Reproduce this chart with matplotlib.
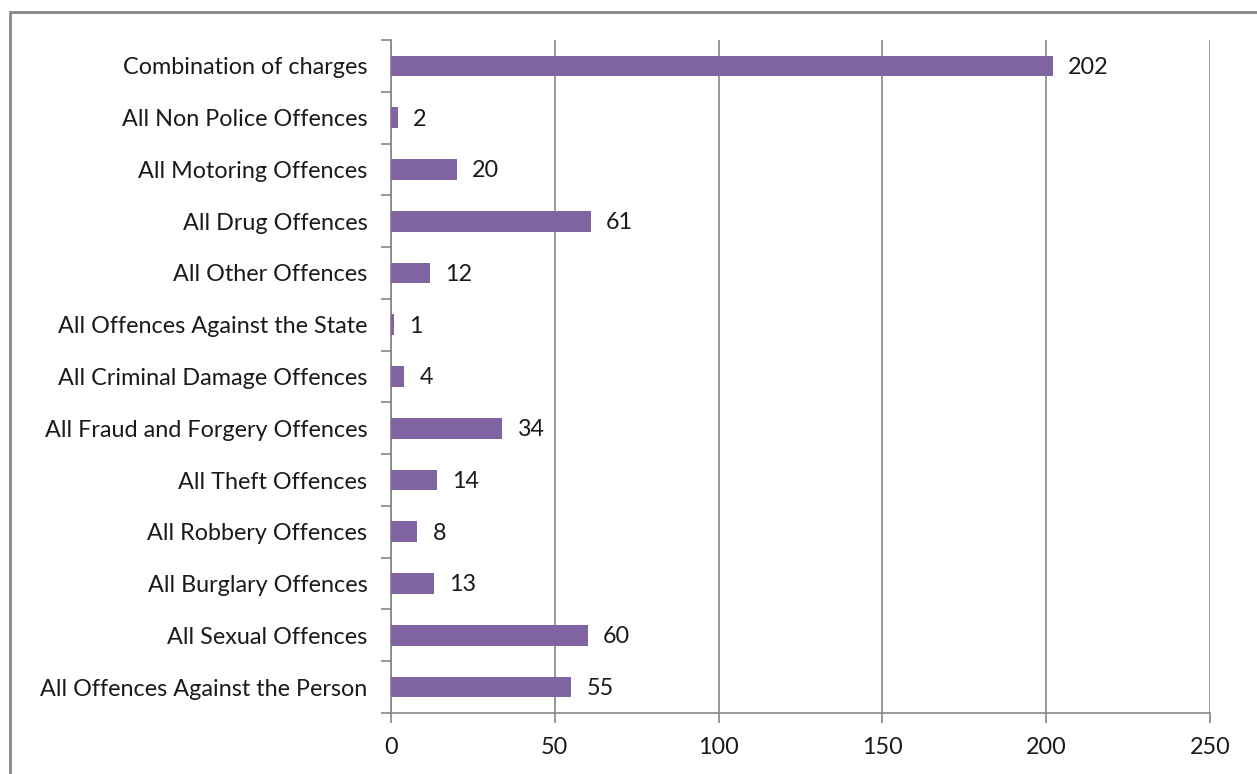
import numpy as np
import matplotlib.pyplot as plt
from matplotlib.patches import Rectangle

# Chart data (bottom to top)
categories = [
    "All Offences Against the Person",
    "All Sexual Offences",
    "All Burglary Offences",
    "All Robbery Offences",
    "All Theft Offences",
    "All Fraud and Forgery Offences",
    "All Criminal Damage Offences",
    "All Offences Against the State",
    "All Other Offences",
    "All Drug Offences",
    "All Motoring Offences",
    "All Non Police Offences",
    "Combination of charges",
]
values = [55, 60, 13, 8, 14, 34, 4, 1, 12, 61, 20, 2, 202]
x_ticks = [0, 50, 100, 150, 200, 250]

plt.rcParams['font.family'] = ['Lato', 'DejaVu Sans']
grey = '#868686'
fs = 16.8

fig = plt.figure(figsize=(12.57, 7.74), dpi=100)
ax = fig.add_axes([391 / 1257, 1 - 713 / 774, (1210 - 391) / 1257, (713 - 40) / 774])

y = np.arange(len(categories))
ax.barh(y, values, height=0.4, color='#8064A2', zorder=3)

for yi, v in zip(y, values):
    ax.annotate(str(v), (v, yi), xytext=(11, -1), textcoords='offset points',
                va='center', ha='left', fontsize=fs, color='#1a1a1a')

ax.set_xlim(0, 250)
ax.set_ylim(-0.5, len(categories) - 0.5)
ax.set_xticks(x_ticks)
ax.set_yticks(y)
ax.set_yticklabels(categories)
ax.set_yticks(np.arange(-0.5, len(categories), 1), minor=True)

ax.grid(axis='x', color=grey, linewidth=1.2, zorder=0)
for s in ['top', 'right']:
    ax.spines[s].set_visible(False)
for s in ['left', 'bottom']:
    ax.spines[s].set_color(grey)
    ax.spines[s].set_linewidth(1.2)

ax.tick_params(axis='y', which='major', length=0, pad=17, labelsize=fs, labelcolor='#1a1a1a')
ax.tick_params(axis='y', which='minor', length=7, color=grey, width=1.2)
ax.tick_params(axis='x', length=7, color=grey, width=1.2, pad=10, labelsize=fs, labelcolor='#1a1a1a')

# outer chart border
fig.patches.append(Rectangle((10 / 1257, -0.1), 1.2, 1 - 12 / 774 + 0.1,
                             transform=fig.transFigure, fill=False,
                             edgecolor='#888888', linewidth=2))

fig.savefig('out.png', dpi=100)
